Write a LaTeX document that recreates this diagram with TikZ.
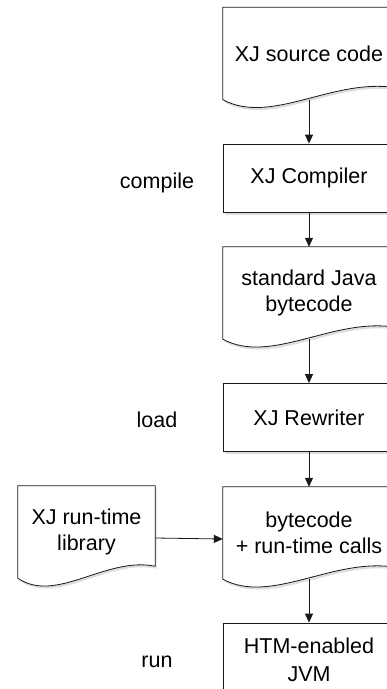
\documentclass[tikz,border=0pt]{standalone}
\usepackage{fontspec}
\setmainfont{Liberation Sans}
\usetikzlibrary{arrows.meta}
\usetikzlibrary{calc}
\usetikzlibrary{shadows}
\usetikzlibrary{backgrounds}
\tikzset{
    boxshadow/.style={drop shadow={shadow xshift=1.5pt, shadow yshift=-2.5pt,
        opacity=0.22, fill=black!60}},
    process/.style={draw=black!90, line width=0.8pt, fill=white, boxshadow,
        minimum width=172pt, align=center, inner sep=0pt,
        font=\fontsize{21.5}{28}\selectfont},
    document/.style={minimum width=172pt, minimum height=92pt, align=center,
        inner sep=0pt, font=\fontsize{21.5}{25.5}\selectfont},
    docline/.style={draw=black!90, line width=0.8pt, fill=white, boxshadow},
    stage/.style={anchor=base, font=\fontsize{21.5}{25.5}\selectfont},
    flow/.style={draw=black!90, line width=0.8pt,
        -{Triangle[length=9pt,width=8pt]}}
}
\newcommand{\docoutline}[1]{%
  \draw[docline] (#1.south west) -- (#1.north west) -- (#1.north east)
    -- ($(#1.south east)+(0,12pt)$)
    .. controls ($(#1.south west)!0.64!(#1.south east)+(0,22pt)$)
    and ($(#1.south west)!0.28!(#1.south east)+(0,-26pt)$) .. (#1.south west)
    -- cycle;}
\begin{document}
\begin{tikzpicture}[x=1pt, y=-1pt]
\clip (0,0) rectangle (387,689);
% main column
\node[document] (src) at (309,53.5) {XJ source code};
\node[process, minimum height=68pt] (comp) at (309,178) {XJ Compiler};
\node[document] (jbc) at (309,293) {standard Java\\bytecode};
\node[process, minimum height=68pt] (rew) at (309,417.5) {XJ Rewriter};
\node[document] (rbc) at (309,533) {bytecode\\+ run-time calls};
\node[process, minimum height=74pt] (jvm) at (309,660) {HTM-enabled\\JVM};
% library
\node[document, minimum width=137pt] (lib) at (86.5,532) {XJ run-time\\library};
% stages
\node[stage] (lcomp) at (157,188) {compile};
\node[stage] (lload) at (157,427) {load};
\node[stage] (lrun) at (157,667) {run};
\begin{scope}[on background layer]
\foreach \d in {src,jbc,rbc,lib} {\docoutline{\d}}
\end{scope}
\draw[flow] (src) -- (comp);
\draw[flow] (comp) -- (jbc);
\draw[flow] (jbc) -- (rew);
\draw[flow] (rew) -- (rbc);
\draw[flow] (rbc) -- (jvm);
\draw[flow] ([yshift=-6pt]lib.east) -- ([yshift=-6pt]rbc.west);
\end{tikzpicture}
\end{document}
